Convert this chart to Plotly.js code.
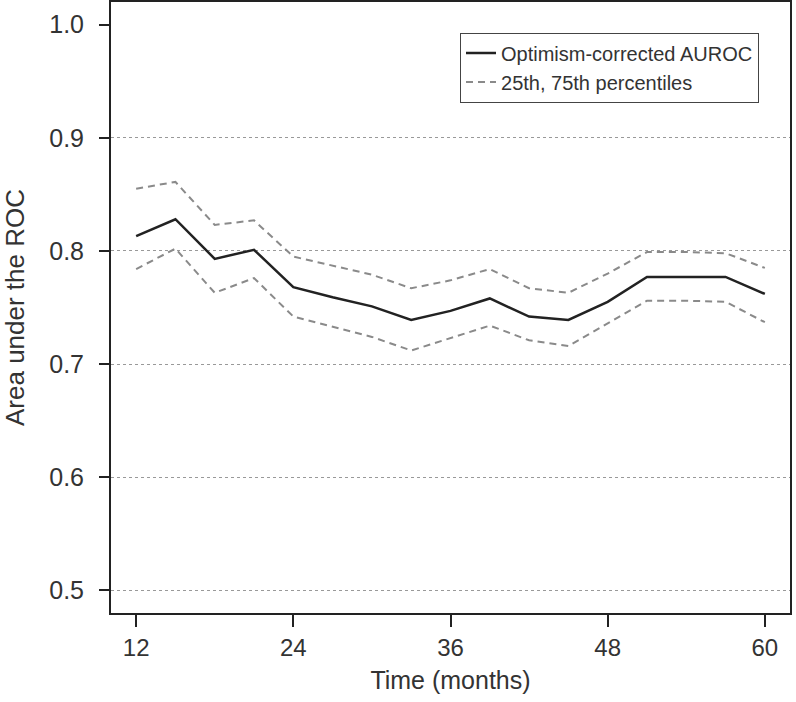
<!DOCTYPE html>
<html>
<head>
<meta charset="utf-8">
<script src="https://cdn.plot.ly/plotly-3.0.1.min.js"></script>
<style>
  body { margin: 0; background: #fff; }
  #chart { width: 796px; height: 702px; }
</style>
</head>
<body>
<div id="chart"></div>
<script>
// months after diagnosis
const months = [12, 15, 18, 21, 24, 27, 30, 33, 36, 39, 42, 45, 48, 51, 54, 57, 60];

// optimism-corrected AUROC
const auroc = [0.813, 0.828, 0.793, 0.801, 0.768, 0.759, 0.751, 0.739, 0.747,
               0.758, 0.742, 0.739, 0.755, 0.777, 0.777, 0.777, 0.762];

// 75th percentile
const p75 = [0.855, 0.861, 0.823, 0.827, 0.795, 0.787, 0.779, 0.767, 0.774,
             0.784, 0.767, 0.763, 0.780, 0.799, 0.799, 0.798, 0.785];

// 25th percentile
const p25 = [0.784, 0.802, 0.763, 0.776, 0.742, 0.733, 0.724, 0.712, 0.723,
             0.734, 0.721, 0.716, 0.736, 0.756, 0.756, 0.755, 0.737];

const xTicks = [12, 24, 36, 48, 60];
const yTicks = [0.5, 0.6, 0.7, 0.8, 0.9, 1.0];
const gridVals = [0.5, 0.6, 0.7, 0.8, 0.9];

function plotAuroc(el) {
    let dashStyle = {color: '#8a8a8a', width: 2, dash: '7px,5px'};

    let trace = []

    // dummy trace so the grid axis is drawn
    trace.push({
        x: [months[0]], y: [gridVals[0]], yaxis: 'y2',
        mode: 'markers', marker: {opacity: 0}, showlegend: false, hoverinfo: 'skip'
    })

    trace.push({
        x: months,
        y: auroc,
        name: 'Optimism-corrected AUROC',
        mode: 'lines',
        type: 'scatter',
        line: {color: '#222', width: 2.5}
    })

    trace.push({
        x: months,
        y: p25,
        name: '25th, 75th percentiles',
        mode: 'lines',
        type: 'scatter',
        line: dashStyle
    })

    trace.push({
        x: months,
        y: p75,
        name: '25th, 75th percentiles',
        showlegend: false,
        mode: 'lines',
        type: 'scatter',
        line: dashStyle
    })

    const layout = {
        width: 796,
        height: 702,
        margin: {l: 111, r: 6, t: 2, b: 89},
        paper_bgcolor: '#fff',
        plot_bgcolor: '#fff',
        font: {family: 'Liberation Sans, Arial, sans-serif', color: '#222'},
        showlegend: true,
        legend: {
            x: 0.514, y: 0.95, xanchor: 'left', yanchor: 'top',
            bgcolor: '#fff', bordercolor: '#444', borderwidth: 1,
            font: {size: 20, color: '#333'},
            traceorder: 'normal'
        },
        xaxis: {
            range: [10.08, 61.92],
            tickvals: xTicks,
            ticktext: xTicks.map(String),
            ticks: 'outside', ticklen: 12, tickwidth: 2, tickcolor: '#222',
            tickfont: {size: 24, color: '#333'},
            showline: true, linecolor: '#222', linewidth: 2, mirror: true,
            showgrid: false, zeroline: false,
            title: {text: 'Time (months)', font: {size: 25, color: '#333'}, standoff: 12}
        },
        yaxis: {
            range: [0.48, 1.02],
            tickvals: yTicks,
            ticktext: yTicks.map(v => v.toFixed(1)),
            ticks: 'outside', ticklen: 10, tickwidth: 2, tickcolor: '#222',
            ticklabelstandoff: 10,
            tickfont: {size: 25, color: '#333'},
            showline: true, linecolor: '#222', linewidth: 2, mirror: true,
            showgrid: false, zeroline: false,
            title: {text: 'Area under the ROC', font: {size: 26, color: '#333'}, standoff: 20}
        },
        // dotted reference lines only (no line at 1.0)
        yaxis2: {
            overlaying: 'y',
            range: [0.48, 1.02],
            tickvals: gridVals,
            showticklabels: false,
            ticks: '',
            showgrid: true, gridcolor: '#999', gridwidth: 1, griddash: 'dot',
            zeroline: false, showline: false
        }
    }

    Plotly.newPlot(el, trace, layout, {displayModeBar: false});
}

plotAuroc(document.getElementById('chart'));
</script>
</body>
</html>
